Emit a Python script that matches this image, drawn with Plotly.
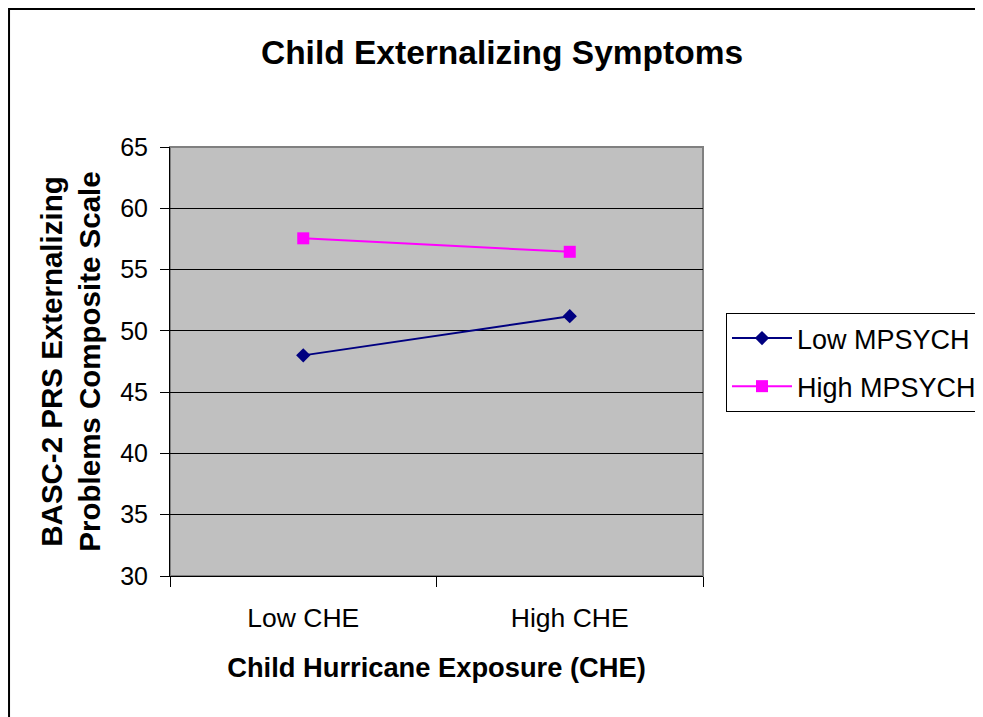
import plotly.graph_objects as go

categories = ["Low CHE", "High CHE"]
low_mpsych = [48.0, 51.2]
high_mpsych = [57.55, 56.45]
y_ticks = [30, 35, 40, 45, 50, 55, 60, 65]

FONT = "Liberation Sans, Arial, sans-serif"

fig = go.Figure()
fig.add_trace(go.Scatter(
    x=categories, y=low_mpsych, name="Low MPSYCH", mode="lines+markers",
    legendgroup="a",
    line=dict(color="#000080", width=2),
    marker=dict(symbol="diamond", size=11, color="#000080"),
))
fig.add_trace(go.Scatter(
    x=categories, y=high_mpsych, name="High MPSYCH", mode="lines+markers",
    legendgroup="b",
    line=dict(color="#FF00FF", width=2),
    marker=dict(symbol="square", size=12, color="#FF00FF"),
))

# page body has an 8px margin, so the figure is 8px smaller and starts at (8, 8)
W, H = 975, 709
L, T = 162, 139
PW, PH = 533, 429
R, B = W - L - PW, H - T - PH

fig.update_layout(
    width=W, height=H,
    margin=dict(l=L, r=R, t=T, b=B, pad=0, autoexpand=False),
    paper_bgcolor="white",
    plot_bgcolor="#C0C0C0",
    font=dict(family=FONT, color="black", size=25),
    title=dict(text="<b>Child Externalizing Symptoms</b>", x=0.5067, y=0.938,
               xanchor="center", yanchor="middle",
               font=dict(size=33.5, family=FONT, color="black")),
    showlegend=True,
    legend=dict(xref="container", yref="container", x=0.7364, y=0.5698,
                xanchor="left", yanchor="top",
                bgcolor="white", bordercolor="black", borderwidth=1,
                font=dict(size=27, family=FONT, color="black"),
                itemwidth=60, tracegroupgap=10, traceorder="grouped",
                entrywidth=290),
    xaxis=dict(
        type="category", range=[-0.5, 1.5],
        showgrid=False, zeroline=False,
        showline=True, linecolor="black", linewidth=1,
        ticks="outside", tickson="boundaries", ticklen=10, tickcolor="black",
        tickfont=dict(size=26.5, family=FONT),
        ticklabelstandoff=18,
        title=dict(text="<b>Child Hurricane Exposure (CHE)</b>", standoff=26,
                   font=dict(size=27.3, family=FONT)),
    ),
    yaxis=dict(
        range=[30, 65], tickvals=y_ticks,
        showgrid=True, gridcolor="black", gridwidth=1, zeroline=False,
        showline=True, linecolor="black", linewidth=1,
        ticks="outside", ticklen=9, tickcolor="black",
        tickfont=dict(size=25, family=FONT),
        ticklabelstandoff=7,
        title=dict(text="<b>BASC-2 PRS Externalizing<br>Problems Composite Scale</b>",
                   standoff=10, font=dict(size=29.5, family=FONT)),
    ),
    shapes=[
        dict(type="rect", xref="paper", yref="paper", x0=0, x1=1, y0=0, y1=1,
             line=dict(color="#808080", width=2), layer="below"),
        dict(type="rect", xref="paper", yref="paper", x0=-0.302, x1=1.6, y0=-0.5, y1=1.3217,
             line=dict(color="black", width=2), fillcolor="rgba(0,0,0,0)"),
    ],
)

fig.write_html("out.html")
